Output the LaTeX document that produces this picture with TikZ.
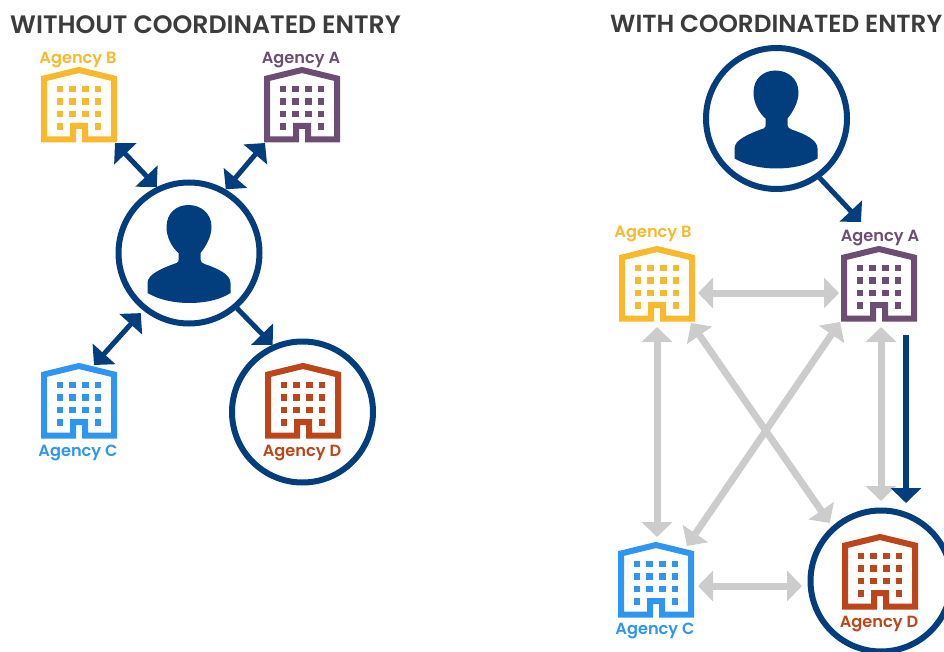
\documentclass[tikz,border=0pt]{standalone}
\usepackage{fontspec}
\usetikzlibrary{arrows.meta,calc}
\newfontfamily\ttlfont{Poppins}[UprightFont=* SemiBold]
\definecolor{navy}{HTML}{023E7D}
\definecolor{agyb}{HTML}{F9B92D}
\definecolor{agya}{HTML}{6B4E71}
\definecolor{agyc}{HTML}{2E96F0}
\definecolor{agyd}{HTML}{BC4519}
\definecolor{arrgrey}{HTML}{CCCCCC}
\definecolor{ttl}{HTML}{3C3C3C}
\tikzset{
  x=1pt,y=-1pt,
  buildingbox/.style={minimum width=76pt,minimum height=76pt,inner sep=0pt,outer sep=0pt},
  ring/.style={circle,draw=navy,line width=6pt,minimum size=141pt,inner sep=0pt,outer sep=3pt,fill=white},
  ttltext/.style={font=\ttlfont\fontsize{24.7}{27}\selectfont,text=ttl,inner sep=0pt,anchor=base west},
  ttlwide/.style={ttltext,font=\ttlfont\fontsize{25.2}{27}\selectfont},
  agylabel/.style={font=\ttlfont\fontsize{16.2}{18}\selectfont,inner sep=0pt,anchor=base},
  twoway/.style={line width=5pt,draw=navy,{Triangle[length=15pt,width=30pt]}-{Triangle[length=15pt,width=30pt]}},
  oneway/.style={line width=5pt,draw=navy,-{Triangle[length=15pt,width=30pt]}},
  greyway/.style={line width=7pt,draw=arrgrey,{Triangle[length=15pt,width=30pt]}-{Triangle[length=15pt,width=30pt]}},
  building/.pic={
    \draw[pic actions,line width=6pt,miter limit=10,fill=none]
      (-35,72.5)--(-35,11.5)--(0,3)--(35,11.5)--(35,72.5)--(6,72.5)--(6,59)--(-6,59)--(-6,72.5)--cycle;
    \foreach \r in {22,34.7,47}{\foreach \c in {-19,-6.3,6.3,19}{
      \fill[pic actions] (\c-3.3,\r-3.3) rectangle (\c+3.3,\r+3.3);}}
    \fill[pic actions] (-22.3,56.4) rectangle (-15.7,63);
    \fill[pic actions] (15.7,56.4) rectangle (22.3,63);
  },
  person/.pic={
    \fill[navy] (-11,0) .. controls (-18,-6) and (-23,-16) .. (-23,-26)
      .. controls (-23,-40) and (-13,-48) .. (-1,-48)
      .. controls (11,-48) and (22,-40) .. (22,-26)
      .. controls (22,-16) and (16,-6) .. (11,0)
      -- (11,7) .. controls (11,9) and (13,10) .. (15,11)
      .. controls (30,16) and (41,22) .. (41,30) -- (41,40)
      .. controls (30,47) and (15,50) .. (0,50)
      .. controls (-15,50) and (-30,47) .. (-42,40) -- (-42,30)
      .. controls (-42,22) and (-30,16) .. (-13,10)
      .. controls (-11,9) and (-11,8) .. (-11,7) -- cycle;
  }
}
\begin{document}
\begin{tikzpicture}
\useasboundingbox (0,0) rectangle (944,652);
\begin{scope}
\clip (0,0) rectangle (944,652);
% titles
\node[ttlwide] (t1) at (10,34) {WITHOUT COORDINATED ENTRY};
\node[ttltext] (t2) at (610,33) {WITH COORDINATED ENTRY};
% rings
\node[ring] (pL) at (189,253) {};
\node[ring] (dL) at (302.5,412) {};
\node[ring] (pR) at (776.5,118.5) {};
\node[ring] (dR) at (881,581) {};
\pic at (189.5,253) {person};
\pic at (776.5,118.5) {person};
% left buildings
\node[buildingbox,anchor=north] (bL) at (79,67) {};
\node[buildingbox,anchor=north] (aL) at (302,67) {};
\node[buildingbox,anchor=north] (cL) at (79,363) {};
\node[buildingbox,anchor=north] (d1) at (303,363) {};
\pic[color=agyb] at (79,67) {building};
\pic[color=agya] at (302,67) {building};
\pic[color=agyc] at (79,363) {building};
\pic[color=agyd] at (303,363) {building};
\node[agylabel,text=agyb] (lb1) at (78,64) {Agency B};
\node[agylabel,text=agya] (la1) at (301,64) {Agency A};
\node[agylabel,text=agyc] (lc1) at (78,456) {Agency C};
\node[agylabel,text=agyd] (ld1) at (302,456) {Agency D};
% right buildings
\node[buildingbox,anchor=north] (bR) at (657,246) {};
\node[buildingbox,anchor=north] (aR) at (879,246) {};
\node[buildingbox,anchor=north] (cR) at (656,542) {};
\node[buildingbox,anchor=north] (d2) at (880,534) {};
\pic[color=agyb] at (657,246) {building};
\pic[color=agya] at (879,246) {building};
\pic[color=agyc] at (656,542) {building};
\pic[color=agyd] at (880,534) {building};
\node[agylabel,text=agyb] (lb2) at (653,238) {Agency B};
\node[agylabel,text=agya] (la2) at (880,242) {Agency A};
\node[agylabel,text=agyc] (lc2) at (655,634) {Agency C};
\node[agylabel,text=agyd] (ld2) at (879,627) {Agency D};
% left connectors
\draw[twoway] ([shift={(-2,0)}]bL.south east) -- (pL.116.6);
\draw[twoway] ([shift={(1,0)}]aL.south west) -- (pL.60.6);
\draw[twoway] ([shift={(15,2)}]cL.north) -- ([shift={(-2,3)}]pL.231);
\draw[oneway] (pL.311.7) -- (dL.114.5);
% right connectors
\draw[oneway] (pR.306.2) -- ([shift={(-18,-24)}]aR.north);
\draw[greyway] ([shift={(3,9)}]bR.east) -- ([shift={(-2,9)}]aR.west);
\draw[greyway] ([shift={(4,6)}]cR.east) -- ([shift={(-5.5,5)}]dR.west);
\draw[greyway] ([shift={(0,5)}]bR.south) -- ([shift={(1,-5)}]cR.north);
\draw[greyway] ([shift={(2,5)}]aR.south) -- ([shift={(0,-6.5)}]dR.north);
\draw[greyway] ([shift={(-4,1)}]bR.south east) -- ([shift={(-3,-2.5)}]dR.131);
\draw[greyway] ([shift={(-1,0)}]aR.south west) -- ([shift={(-7,4)}]cR.north east);
\draw[oneway,line width=6pt] ([shift={(27,13)}]aR.south) -- ([shift={(25,-4.5)}]dR.north);
\end{scope}
\end{tikzpicture}
\end{document}
